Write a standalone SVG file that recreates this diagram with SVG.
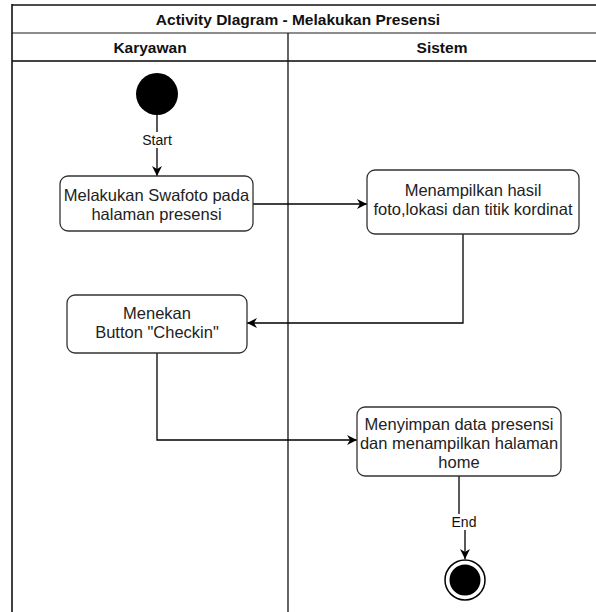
<svg xmlns="http://www.w3.org/2000/svg" width="596" height="612" viewBox="0 0 596 612">
<style>
.t{font-family:"Liberation Sans",Arial,sans-serif;font-size:16.5px;fill:#222;text-anchor:middle}
.h{font-family:"Liberation Sans",Arial,sans-serif;font-size:15.5px;font-weight:bold;fill:#111;text-anchor:middle}
.box{fill:#fff;stroke:#333;stroke-width:1.3}
.c{fill:none;stroke:#000;stroke-width:1.3}
.lbl{font-family:"Liberation Sans",Arial,sans-serif;font-size:14px;fill:#111;text-anchor:middle}
</style>
<defs>
<marker id="arr" viewBox="0 0 10 10" refX="10" refY="5" markerWidth="10" markerHeight="10" markerUnits="userSpaceOnUse" orient="auto">
<path d="M0 0 L10 5 L0 10 L3 5 Z" fill="#000"/>
</marker>
</defs>
<rect width="596" height="612" fill="#fff"/>
<g id="pool">
<line x1="12" y1="5" x2="596" y2="5" stroke="#111" stroke-width="1.6"/>
<line x1="12" y1="33" x2="596" y2="33" stroke="#666" stroke-width="1.5"/>
<line x1="12" y1="61" x2="596" y2="61" stroke="#444" stroke-width="1.8"/>
<line x1="12" y1="4" x2="12" y2="612" stroke="#111" stroke-width="1.6"/>
<line x1="288" y1="33" x2="288" y2="612" stroke="#111" stroke-width="1.3"/>
<text class="h" x="298" y="24.5">Activity DIagram - Melakukan Presensi</text>
<text class="h" x="150" y="52.5">Karyawan</text>
<text class="h" x="442" y="52.5">Sistem</text>
</g>
<g id="connectors">
<path class="c" d="M157 115 V176" marker-end="url(#arr)"/>
<rect x="139" y="132" width="36" height="16" fill="#fff"/>
<text class="lbl" x="157" y="145">Start</text>
<path class="c" d="M253 204 H367" marker-end="url(#arr)"/>
<path class="c" d="M463 234 V323 H247" marker-end="url(#arr)"/>
<path class="c" d="M157 353 V440 H357" marker-end="url(#arr)"/>
<path class="c" d="M459 476 V522 H465 V559" stroke="#555" marker-end="url(#arr)"/>
<rect x="447" y="514" width="34" height="16" fill="#fff"/>
<text class="lbl" x="464" y="527">End</text>
</g>
<g id="start">
<circle cx="157" cy="94" r="21" fill="#000"/>
</g>
<g id="swafoto">
<rect class="box" x="60" y="176" width="193" height="55" rx="8"/>
<text class="t" x="156.5" y="201">Melakukan Swafoto pada</text>
<text class="t" x="156.5" y="220">halaman presensi</text>
</g>
<g id="tampil">
<rect class="box" x="367" y="170" width="212" height="64" rx="8"/>
<text class="t" x="473" y="196">Menampilkan hasil</text>
<text class="t" x="473" y="215">foto,lokasi dan titik kordinat</text>
</g>
<g id="checkin">
<rect class="box" x="67" y="295" width="180" height="58" rx="8"/>
<text class="t" x="157" y="319">Menekan</text>
<text class="t" x="157" y="338">Button "Checkin"</text>
</g>
<g id="simpan">
<rect class="box" x="357" y="407" width="204" height="69" rx="8"/>
<text class="t" x="459" y="430">Menyimpan data presensi</text>
<text class="t" x="459" y="449">dan menampilkan halaman</text>
<text class="t" x="459" y="468">home</text>
</g>
<g id="end">
<circle cx="465" cy="580" r="20" fill="#fff" stroke="#000" stroke-width="1.5"/>
<circle cx="465" cy="580" r="15.5" fill="#000"/>
</g>
</svg>
